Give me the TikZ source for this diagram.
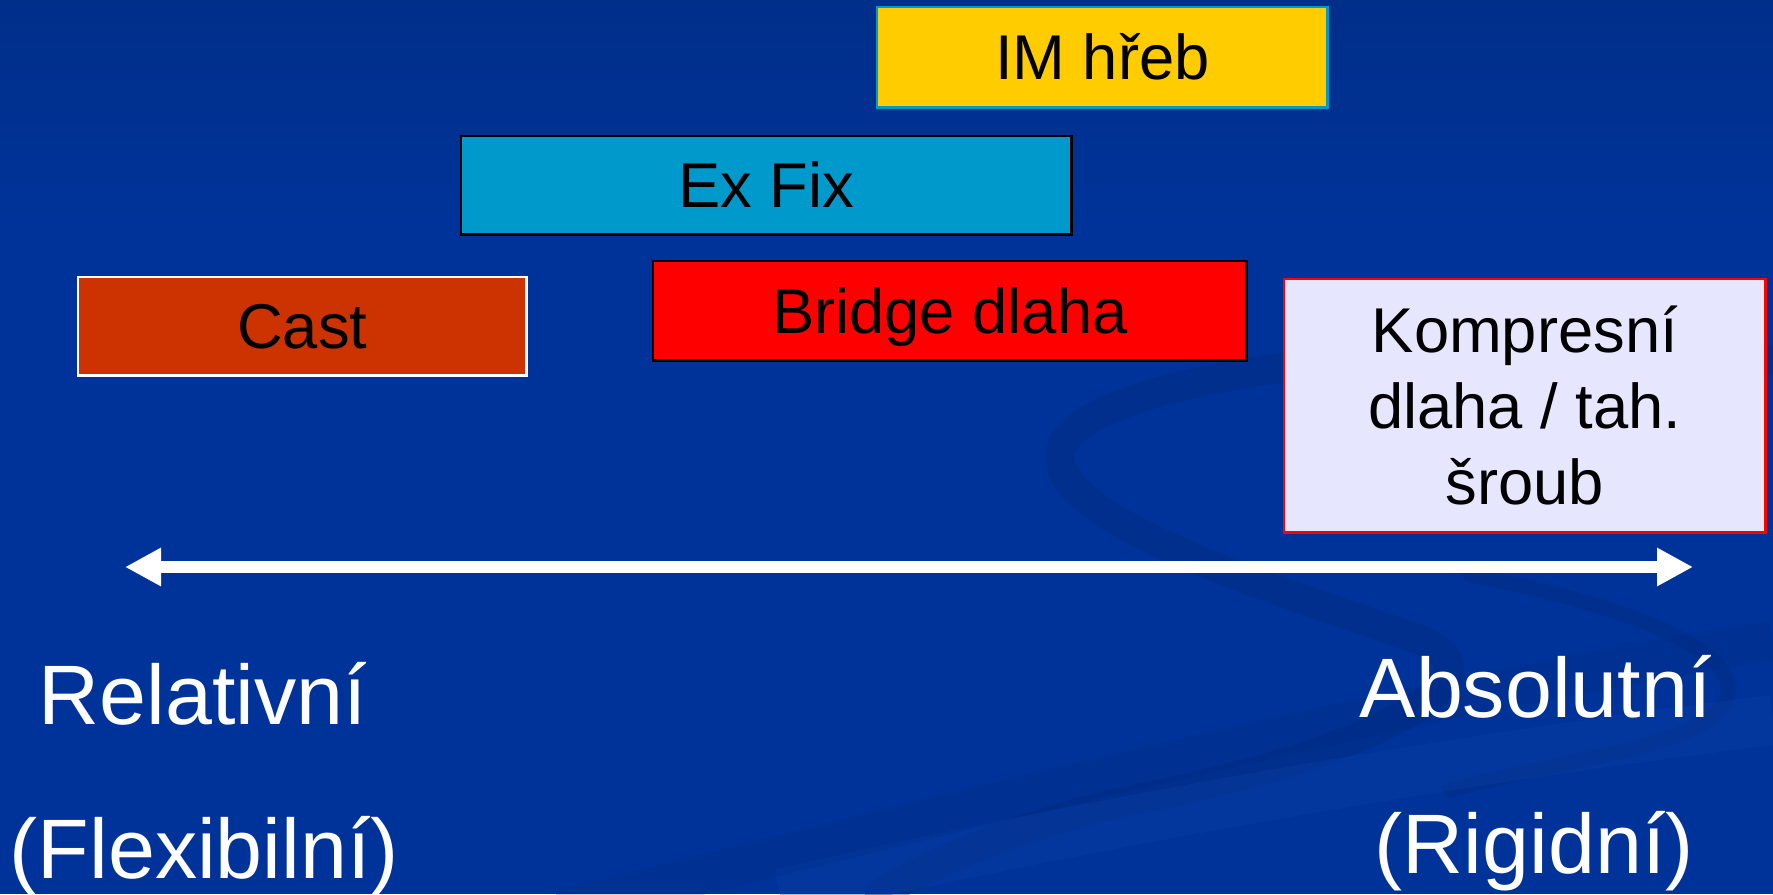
\documentclass[tikz,border=0pt]{standalone}
\usepackage{fontspec}
\setmainfont{Liberation Sans}
\usetikzlibrary{arrows.meta}
\definecolor{bgblue}{HTML}{003399}
\definecolor{bgtop}{HTML}{002F8A}
\definecolor{swirl}{HTML}{00287A}
\definecolor{swirllight}{HTML}{0A3FA6}
\definecolor{imyellow}{HTML}{FFCC00}
\definecolor{excyan}{HTML}{0099CC}
\definecolor{castbrown}{HTML}{CC3300}
\definecolor{kplav}{HTML}{E6E6FF}
\tikzset{
  boxbase/.style={draw, line width=0.7pt, inner sep=0pt, anchor=north west,
    font=\fontsize{18}{21.6}\selectfont, text=black},
  onebox/.style={boxbase, text height=12.9pt, text depth=0pt},
  bigtext/.style={text=white, inner sep=0pt, font=\fontsize{24}{28.8}\selectfont},
  axis/.style={white, line width=0.115cm, {Triangle[length=0.36cm,width=0.36cm]}-{Triangle[length=0.36cm,width=0.36cm]}},
  swirlband/.style={swirl, opacity=0.35, line cap=round}
}
\begin{document}
\begin{tikzpicture}[x=0.01cm,y=-0.01cm]
\useasboundingbox (0,0) rectangle (1773,894);
% background
\fill[bgblue] (0,0) rectangle (1773,894);
\shade[top color=bgtop, bottom color=bgblue] (0,0) rectangle (1773,220);
% faint swirl decoration
\draw[swirlband, line width=0.3cm]
  (1773,360) .. controls (1400,330) and (1080,380) .. (1060,450)
  .. controls (1050,520) and (1250,580) .. (1420,640)
  .. controls (1520,680) and (1350,760) .. (1130,800)
  .. controls (1000,830) and (920,870) .. (880,894);
\draw[swirlband, line width=0.15cm]
  (1470,575) .. controls (1650,610) and (1760,660) .. (1720,710)
  .. controls (1680,750) and (1560,760) .. (1450,790);
\draw[swirllight, opacity=0.35, line width=0.5cm]
  (780,894) .. controls (1100,820) and (1450,760) .. (1773,720);
\draw[swirl, opacity=0.2, line width=0.4cm]
  (560,910) .. controls (1000,800) and (1400,700) .. (1773,640);
% boxes
\node[onebox, fill=imyellow, draw=excyan, minimum width=4.5cm, minimum height=1.0cm] (im) at (876,6) {IM hřeb};
\node[onebox, fill=excyan, draw=black, minimum width=6.1cm, minimum height=0.98cm] (ex) at (460,135) {Ex Fix};
\node[onebox, fill=red, draw=black, minimum width=5.93cm, minimum height=0.99cm] (br) at (652,260) {Bridge dlaha};
\node[onebox, fill=castbrown, draw=white, minimum width=4.48cm, minimum height=0.98cm] (cast) at (77,276) {Cast};
\node[boxbase, fill=kplav, draw=red, minimum width=4.81cm, minimum height=2.53cm, align=center] (kp) at (1283,278) {Kompresní\\dlaha / tah.\\šroub};
% axis arrow
\coordinate (aL) at (125,567);
\coordinate (aR) at (1693,567);
\draw[axis] (aL) -- (aR);
% end labels
\node[bigtext, anchor=base west] (rel) at (38,724) {Relativní};
\node[bigtext, anchor=base west] (flex) at (9,878) {(Flexibilní)};
\node[bigtext, anchor=base west] (abs) at (1359,717) {Absolutní};
\node[bigtext, anchor=base west] (rig) at (1374,873) {(Rigidní)};
\end{tikzpicture}
\end{document}
